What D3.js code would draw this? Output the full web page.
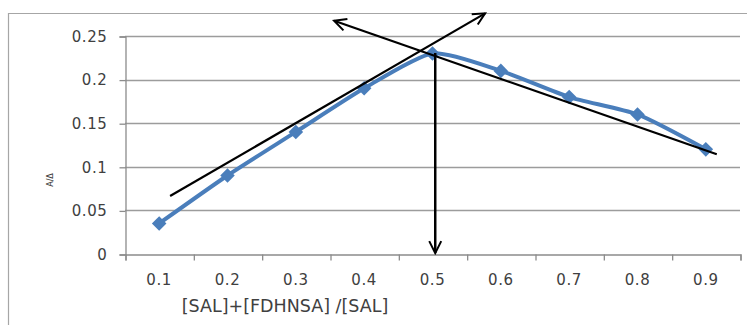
<!DOCTYPE html>
<html>
<head>
<meta charset="utf-8">
<script src="https://d3js.org/d3.v7.min.js"></script>
<style>
  body { margin: 0; background: #fff; }
  text { font-family: "DejaVu Sans", sans-serif; fill: #404040; }
</style>
</head>
<body>
<div id="chart"></div>
<script>
// category values on the x axis and the measured ratio
var categories = [0.1, 0.2, 0.3, 0.4, 0.5, 0.6, 0.7, 0.8, 0.9]
var values = [0.035, 0.09, 0.14, 0.19, 0.23, 0.21, 0.18, 0.16, 0.12]
var yTicks = [0, 0.05, 0.1, 0.15, 0.2, 0.25]

// hand drawn arrows, in data units (x value, y value)
var arrowRising = [[0.116, 0.0665], [0.577, 0.276]]
var arrowFalling = [[0.916, 0.1143], [0.356, 0.2675]]
var arrowDown = [[0.504, 0.2305], [0.504, 0.001]]

var W = 747, H = 325

var svg = d3.select('#chart').append('svg')
    .attr('width', W)
    .attr('height', H)

// x: categories sit in the middle of equal slots between 0.05 and 0.95
var xs = d3.scaleLinear().domain([0.05, 0.95]).range([125, 740])
var ys = d3.scaleLinear().domain([0, 0.25]).range([254, 36])

// outer frame (only top and left visible)
svg.append('path')
    .attr('d', 'M8.5,' + H + 'V13.5H' + W)
    .attr('fill', 'none')
    .attr('stroke', '#a6a6a6')
    .attr('stroke-width', 1.2)

// gridlines
svg.append('g')
    .selectAll('line')
    .data(yTicks.slice(1))
    .enter()
    .append('line')
    .attr('x1', 125)
    .attr('x2', 740)
    .attr('y1', function(d) { return Math.round(ys(d)) + 0.5 })
    .attr('y2', function(d) { return Math.round(ys(d)) + 0.5 })
    .attr('stroke', '#9c9c9c')
    .attr('stroke-width', 1.3)

// y axis
var yAxis = svg.append('g')
    .attr('transform', 'translate(125.5,0.5)')
    .call(d3.axisLeft(ys).tickValues(yTicks).tickSize(6).tickPadding(12)
        .tickFormat(function(d) { return String(d) }))
yAxis.selectAll('text')
    .style('font-size', '15px')
    .style('letter-spacing', '0.6px')
    .attr('fill', '#404040')

// x axis: ticks on slot boundaries, labels in the middle
var boundaries = d3.range(0, 10).map(function(i) { return 0.05 + i * 0.1 })
var xAxis = svg.append('g')
    .attr('transform', 'translate(0.5,254.5)')
    .call(d3.axisBottom(xs).tickValues(boundaries).tickSize(6).tickFormat(''))
svg.append('g')
    .selectAll('text')
    .data(categories)
    .enter()
    .append('text')
    .attr('x', function(d) { return xs(d) })
    .attr('y', 285)
    .attr('text-anchor', 'middle')
    .style('font-size', '15px')
    .style('letter-spacing', '0.6px')
    .text(function(d) { return String(d) })

svg.selectAll('.domain, .tick line').attr('stroke', '#8c8c8c').attr('stroke-width', 1.3)

// axis titles
svg.append('text')
    .attr('x', 285)
    .attr('y', 312)
    .attr('text-anchor', 'middle')
    .style('font-size', '17.5px')
    .text('[SAL]+[FDHNSA] /[SAL]')

svg.append('text')
    .attr('transform', 'translate(53,180) rotate(-90)')
    .attr('text-anchor', 'middle')
    .style('font-size', '8px')
    .attr('fill', '#222')
    .text('A/Δ')

// data series
var series = values.map(function(v, i) { return [categories[i], v] })

svg.append('path')
    .datum(series)
    .attr('fill', 'none')
    .attr('stroke', '#4a7ebb')
    .attr('stroke-width', 4)
    .attr('stroke-linejoin', 'round')
    .attr('d', d3.line()
        .x(function(d) { return xs(d[0]) })
        .y(function(d) { return ys(d[1]) })
        .curve(d3.curveCardinal.tension(0.35)))

svg.append('g')
    .selectAll('path')
    .data(series)
    .enter()
    .append('path')
    .attr('transform', function(d) { return 'translate(' + xs(d[0]) + ',' + ys(d[1]) + ')' })
    .attr('d', d3.symbol().type(d3.symbolDiamond2).size(135))
    .attr('fill', '#4a7ebb')

// arrow heads
var defs = svg.append('defs')
defs.append('marker')
    .attr('id', 'head')
    .attr('markerUnits', 'userSpaceOnUse')
    .attr('viewBox', '-14 -8 16 16')
    .attr('markerWidth', 16)
    .attr('markerHeight', 16)
    .attr('refX', 0)
    .attr('refY', 0)
    .attr('orient', 'auto')
    .append('path')
    .attr('d', 'M-12,-6L0,0L-12,6')
    .attr('fill', 'none')
    .attr('stroke', '#000')
    .attr('stroke-width', 2)

var arrowLine = d3.line()
    .x(function(d) { return xs(d[0]) })
    .y(function(d) { return ys(d[1]) })

svg.append('g')
    .selectAll('path')
    .data([arrowRising, arrowFalling, arrowDown])
    .enter()
    .append('path')
    .attr('d', arrowLine)
    .attr('fill', 'none')
    .attr('stroke', '#000')
    .attr('stroke-width', function(d, i) { return i == 2 ? 2.5 : 2.2 })
    .attr('marker-end', 'url(#head)')
</script>
</body>
</html>
